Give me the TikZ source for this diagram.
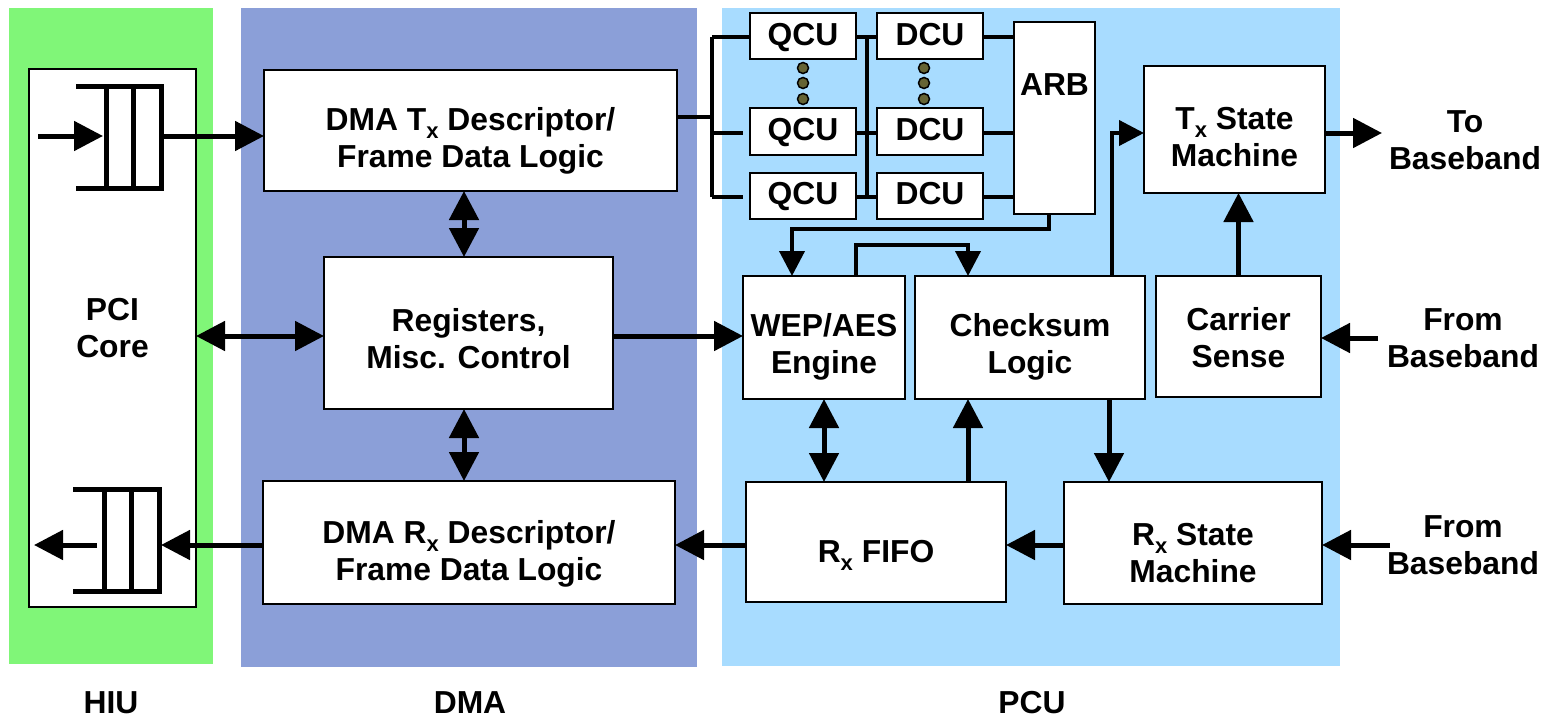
\documentclass[tikz,border=0pt]{standalone}
\usepackage{fontspec}
\setmainfont{Liberation Sans}
\usetikzlibrary{arrows.meta}
\definecolor{hiugreen}{RGB}{128,246,120}
\definecolor{dmablue}{RGB}{139,159,216}
\definecolor{pcublue}{RGB}{168,220,255}
\definecolor{olivedot}{RGB}{102,100,52}
% subscript x used in Tx / Rx
\newcommand\subx{\raisebox{-8pt}{\fontsize{22}{22}\selectfont x}}
% block: name, x1, y1, x2, y2, top of caption, caption
\newcommand\blockat[7]{%
  \node[blockbox, minimum width={(#4)-(#2)}, minimum height={(#5)-(#3)}]
    (#1) at ({((#2)+(#4))/2},{((#3)+(#5))/2}) {};
  \node[lbl] (#1-t) at ({((#2)+(#4))/2},#6) {#7};}
\begin{document}
\begin{tikzpicture}[x=1pt,y=-1pt,
  blockbox/.style={draw=black, fill=white, line width=2pt, inner sep=0pt, outer sep=0pt},
  lbl/.style={font=\fontsize{31.8}{37.5}\selectfont\bfseries, anchor=north, inner sep=0pt, align=center},
  arr/.style={line width=5pt, -{Triangle[length=29pt,width=29pt]}},
  arrs/.style={line width=4pt, -{Triangle[length=25pt,width=25pt]}},
  dbl/.style={line width=5pt, {Triangle[length=29pt,width=29pt]}-{Triangle[length=29pt,width=29pt]}},
  bus/.style={line width=4pt},
  fifo/.style={line width=5pt},
  dotmark/.style={fill=olivedot, draw=black, line width=1.5pt}]
\useasboundingbox (0,0) rectangle (1549,717);

% unit backgrounds
\fill[hiugreen] (9,8) rectangle (213,664);
\fill[dmablue] (241,8) rectangle (697,667);
\fill[pcublue] (722,8) rectangle (1340,666);

% HIU
\blockat{pci}{29}{69}{196}{607}{298}{PCI\\Core}
% DMA
\blockat{dmatx}{264}{70}{677}{191}{107}{DMA T\subx{} Descriptor/\\Frame Data Logic}
\blockat{regs}{324}{257}{613}{409}{308}{Registers,\\Misc. Control}
\blockat{dmarx}{263}{481}{675}{604}{520}{DMA R\subx{} Descriptor/\\Frame Data Logic}
% PCU
\blockat{qcu1}{750}{13}{856}{59}{23}{QCU}
\blockat{qcu2}{750}{108}{856}{155}{118}{QCU}
\blockat{qcu3}{750}{173}{856}{219}{182}{QCU}
\blockat{dcu1}{877}{13}{983}{59}{23}{DCU}
\blockat{dcu2}{877}{108}{983}{155}{118}{DCU}
\blockat{dcu3}{877}{173}{983}{219}{182}{DCU}
\blockat{arb}{1014}{22}{1095}{214}{73}{ARB}
\blockat{txsm}{1144}{66}{1325}{193}{107}{T\subx{} State\\Machine}
\blockat{wep}{743}{276}{905}{399}{313}{WEP/AES\\Engine}
\blockat{checksum}{915}{276}{1145}{399}{313}{Checksum\\Logic}
\blockat{carrier}{1156}{276}{1321}{397}{307}{Carrier\\Sense}
\blockat{rxfifo}{746}{482}{1006}{602}{540}{R\subx{} FIFO}
\blockat{rxsm}{1064}{482}{1322}{604}{523}{R\subx{} State\\Machine}

% outside labels
\node[lbl] (tob) at (1465,110) {To\\Baseband};
\node[lbl] (fromA) at (1463,308) {From\\Baseband};
\node[lbl] (fromB) at (1463,515) {From\\Baseband};
\node[lbl] (hiu) at (111,691) {HIU};
\node[lbl] (dma) at (470,691) {DMA};
\node[lbl] (pcu) at (1032,691) {PCU};

% FIFO symbols in the PCI core
\draw[fifo] (76,86) -- (161,86) -- (161,188) -- (76,188);
\draw[fifo] (106,86) -- (106,188) (133,86) -- (133,188);
\draw[fifo] (73,489) -- (159,489) -- (159,591) -- (73,591);
\draw[fifo] (104,489) -- (104,591) (131,489) -- (131,591);

% helper coordinates
\coordinate (fi1) at (38,136);
\coordinate (fi2) at (103,136);
\coordinate (ft) at (163,136);
\coordinate (fr) at (161,545);
\coordinate (fo1) at (97,545);
\coordinate (fo2) at (34,545);
\coordinate (rr) at (0,336);
\coordinate (dv) at (464,0);
\coordinate (bj) at (712,117);
\coordinate (b1) at (712,37);
\coordinate (b2) at (712,133);
\coordinate (b3) at (712,197);
\coordinate (m1) at (867,37);
\coordinate (m3) at (867,197);
\coordinate (k0) at (1049,229);
\coordinate (k1) at (792,229);
\coordinate (l1) at (856,245);
\coordinate (l2) at (968,245);
\coordinate (t1) at (1112,133);
\coordinate (tipTo) at (1382,133);
\coordinate (fb1) at (1378,338);
\coordinate (fb2) at (1390,545);
\coordinate (cr) at (1109,0);

% HIU / DMA connectors
\draw[arr] (fi1) -- (fi2);
\draw[arr] (ft) -- (dmatx.west |- ft);
\draw[arr] (dmarx.west |- fb2) -- (fr);
\draw[arr] (fo1) -- (fo2);
\draw[dbl] (pci.east |- rr) -- (regs.west |- rr);
\draw[dbl] (dmatx.south -| dv) -- (regs.north -| dv);
\draw[dbl] (regs.south -| dv) -- (dmarx.north -| dv);
\draw[arr] (regs.east |- rr) -- (wep.west |- rr);

% queue / DCU bus
\draw[bus] (dmatx.east |- bj) -- (bj);
\draw[bus] (b1) -- (b3);
\draw[bus] (b1) -- (qcu1.west |- b1);
\draw[bus] (b2) -- ([xshift=-7pt]qcu2.west |- b2);
\draw[bus] (b3) -- ([xshift=-7pt]qcu3.west |- b3);
\draw[bus] (m1) -- (m3);
\draw[bus] (qcu1.east |- m1) -- (dcu1.west |- m1);
\draw[bus] (qcu2.east |- b2) -- (dcu2.west |- b2);
\draw[bus] (qcu3.east |- m3) -- (dcu3.west |- m3);
\draw[bus] (dcu1.east |- m1) -- (arb.west |- m1);
\draw[bus] (dcu2.east |- b2) -- (arb.west |- b2);
\draw[bus] (dcu3.east |- m3) -- (arb.west |- m3);
% ellipsis dots between the first and the last queue
\foreach \yy in {68,83,99} {
  \draw[dotmark] (803,\yy) circle (5.5);
  \draw[dotmark] (924,\yy) circle (5.5);
}

% PCU connectors
\draw[arrs] (arb.south -| k0) -- (k0) -- (k1) -- (wep.north -| k1);
\draw[arrs] (wep.north -| l1) -- (l1) -- (l2) -- (checksum.north -| l2);
\draw[arrs] (checksum.north -| t1) -- (t1) -- (txsm.west |- t1);
\draw[arr] (carrier.north) -- (txsm.south -| carrier.north);
\draw[arr] (txsm.east |- t1) -- (tipTo);
\draw[arr] (fb1) -- (carrier.east |- fb1);
\draw[arr] (fb2) -- (rxsm.east |- fb2);
\draw[dbl] (wep.south) -- (rxfifo.north -| wep.south);
\draw[arr] (rxfifo.north -| l2) -- (checksum.south -| l2);
\draw[arr] (checksum.south -| cr) -- (rxsm.north -| cr);
\draw[arr] (rxsm.west |- fb2) -- (rxfifo.east |- fb2);
\draw[arr] (rxfifo.west |- fb2) -- (dmarx.east |- fb2);
\end{tikzpicture}
\end{document}
